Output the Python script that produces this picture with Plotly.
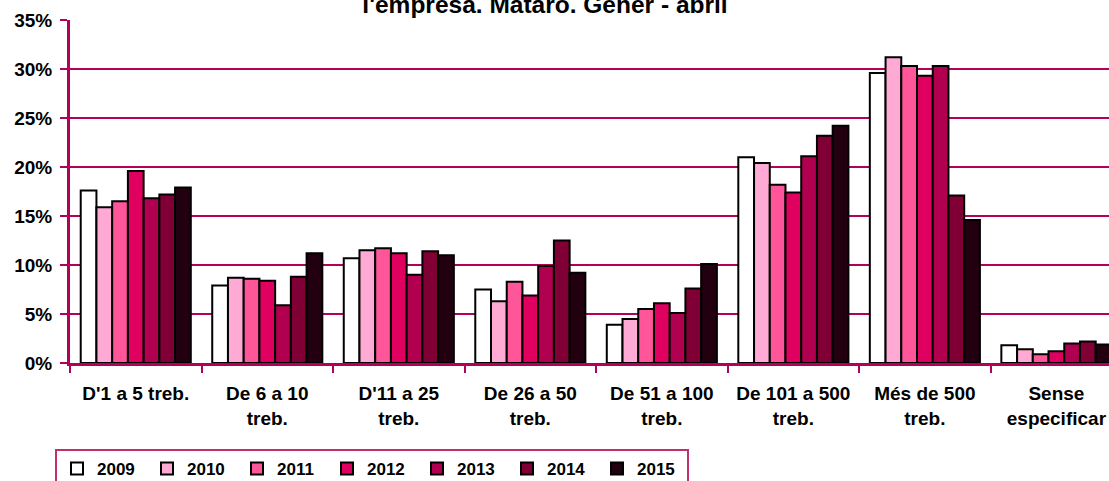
import plotly.graph_objects as go

# Company-size bands (number of workers)
categories = [
    "D'1 a 5 treb.",
    "De 6 a 10<br>treb.",
    "D'11 a 25<br>treb.",
    "De 26 a 50<br>treb.",
    "De 51 a 100<br>treb.",
    "De 101 a 500<br>treb.",
    "Més de 500<br>treb.",
    "Sense<br>especificar",
]

years = ["2009", "2010", "2011", "2012", "2013", "2014", "2015"]

# Share of contracts per size band (%), January-April of each year
share_2009 = [17.6, 7.9, 10.7, 7.5, 3.9, 21.0, 29.6, 1.8]
share_2010 = [15.9, 8.7, 11.5, 6.3, 4.5, 20.4, 31.2, 1.4]
share_2011 = [16.5, 8.6, 11.7, 8.3, 5.5, 18.2, 30.3, 0.9]
share_2012 = [19.6, 8.4, 11.2, 6.9, 6.1, 17.4, 29.3, 1.2]
share_2013 = [16.8, 5.9, 9.0, 9.9, 5.1, 21.1, 30.3, 2.0]
share_2014 = [17.2, 8.8, 11.4, 12.5, 7.6, 23.2, 17.1, 2.2]
share_2015 = [17.9, 11.2, 11.0, 9.2, 10.1, 24.2, 14.6, 1.9]

y_ticks = [0, 5, 10, 15, 20, 25, 30, 35]
y_tick_labels = [f"{v}%" for v in y_ticks]

series = [share_2009, share_2010, share_2011, share_2012,
          share_2013, share_2014, share_2015]
colors = ["#FFFFFF", "#FFAAD4", "#FF5599", "#E0005F",
          "#B0004F", "#800035", "#220010"]

AXIS = "#B3005A"
FONT = "Liberation Sans, Arial, sans-serif"

fig = go.Figure()
for year, vals, col in zip(years, series, colors):
    fig.add_trace(go.Bar(
        x=categories,
        y=vals,
        name=year,
        marker=dict(color=col, line=dict(color="#000000", width=2)),
    ))

fig.update_layout(
    width=1109,
    height=481,
    margin=dict(l=70, r=0, t=19.5, b=117.5, pad=0),
    paper_bgcolor="white",
    plot_bgcolor="white",
    barmode="group",
    bargap=0.163,
    bargroupgap=0,
    font=dict(family=FONT, color="#000000"),
    title=dict(
        text="l'empresa. Mataró. Gener - abril",
        font=dict(family=FONT, size=24.5, weight="bold", color="#000000"),
        x=545 / 1109,
        xanchor="center",
        xref="container",
        yref="container",
        y=1 - 13 / 481,
        yanchor="bottom",
        pad=dict(t=0, b=0, l=0, r=0),
    ),
    showlegend=True,
    legend=dict(
        orientation="h",
        xref="container",
        yref="container",
        x=55 / 1109,
        y=1 - 449 / 481,
        xanchor="left",
        yanchor="top",
        bgcolor="white",
        bordercolor="#C0306A",
        borderwidth=2,
        font=dict(family=FONT, size=17, weight="bold", color="#000000"),
        entrywidth=45,
        entrywidthmode="pixels",
        traceorder="normal",
        itemclick=False,
    ),
)

fig.update_xaxes(
    type="category",
    range=[-0.5, 7.4],
    showline=True,
    linecolor=AXIS,
    linewidth=3,
    ticks="outside",
    tickson="boundaries",
    ticklen=7,
    tickwidth=2,
    tickcolor=AXIS,
    tickangle=0,
    tickfont=dict(family=FONT, size=19, weight="bold", color="#000000"),
    ticklabelstandoff=11,
    showgrid=False,
    automargin=False,
    fixedrange=True,
)

fig.update_yaxes(
    range=[0, 35],
    tickvals=y_ticks,
    ticktext=y_tick_labels,
    showline=True,
    linecolor=AXIS,
    linewidth=3,
    ticks="outside",
    ticklen=7,
    tickwidth=2,
    tickcolor=AXIS,
    tickfont=dict(family=FONT, size=19, weight="bold", color="#000000"),
    ticklabelstandoff=4,
    showgrid=True,
    gridcolor=AXIS,
    gridwidth=2,
    zeroline=False,
    automargin=False,
    fixedrange=True,
)

fig.write_html("out.html", config=dict(displayModeBar=False))
